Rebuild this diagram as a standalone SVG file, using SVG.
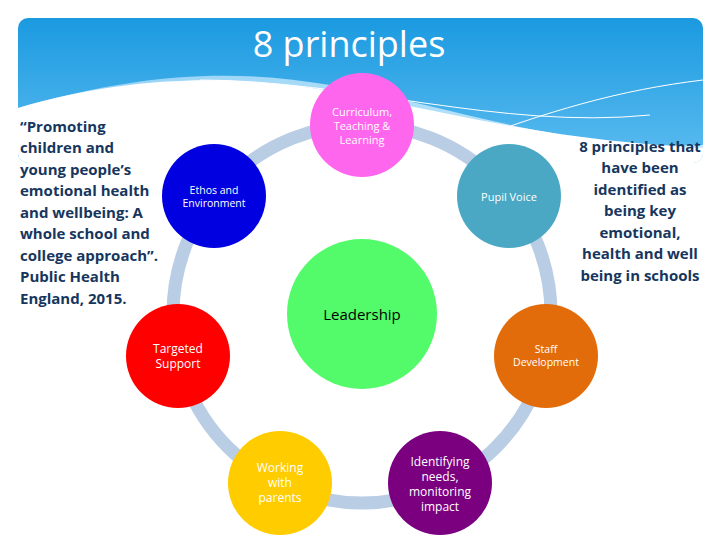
<svg xmlns="http://www.w3.org/2000/svg" width="720" height="540" viewBox="0 0 720 540">
<defs>
<linearGradient id="bg" x1="0" y1="0" x2="0" y2="1"><stop offset="0" stop-color="#1b9ae0"/><stop offset="1" stop-color="#5cbcf0"/></linearGradient>
<linearGradient id="wv" x1="0" y1="0" x2="1" y2="0"><stop offset="0" stop-color="#8fd0f5"/><stop offset="1" stop-color="#c6e8fb"/></linearGradient>
<clipPath id="cb"><rect x="18" y="18" width="685" height="145" rx="10"/></clipPath>
<style>
.n text{font-family:"Open Sans","Liberation Sans",sans-serif;fill:#fff;text-anchor:middle}
.side{font-family:"Open Sans","Liberation Sans",sans-serif;font-weight:bold;font-size:15px;fill:#17365d}
</style>
</defs>
<rect width="720" height="540" fill="#fff"/>
<g clip-path="url(#cb)">
<rect x="18" y="18" width="685" height="145" fill="url(#bg)"/>
<path d="M18 108 C150 70 240 70 330 85 C450 105 560 150 703 145 L703 163 L18 163 Z" fill="url(#wv)"/>
<path d="M18 108 C150 70 260 75 380 100 C480 120 560 140 703 148 L703 163 L18 163 Z" fill="#fff"/>
<path d="M200 80 C350 80 500 130 650 115" stroke="#fff" stroke-width="1" fill="none"/>
<path d="M450 148 C550 110 620 90 703 80" stroke="#fff" stroke-width="1" fill="none"/>
</g>
<text x="349" y="57" font-family="'Open Sans','Liberation Sans',sans-serif" font-size="36" fill="#fff" text-anchor="middle">8 principles</text>
<g id="connectors">
<circle cx="362" cy="314" r="189" fill="none" stroke="#b9cde5" stroke-width="13"/>
</g>
<g id="leadership" class="n"><circle cx="362" cy="314" r="75" fill="#53fb6a"/><text x="362" y="320" font-size="15" style="fill:#000">Leadership</text></g>
<g id="curriculum" class="n"><circle cx="362" cy="125" r="52" fill="#ff66ee"/><text x="362" y="116" font-size="11">Curriculum,</text><text x="362" y="130" font-size="11">Teaching &amp;</text><text x="362" y="144" font-size="11">Learning</text></g>
<g id="ethos" class="n"><circle cx="214" cy="196" r="52" fill="#0000e0"/><text x="214" y="194" font-size="10.5">Ethos and</text><text x="214" y="207" font-size="10.5">Environment</text></g>
<g id="pupil" class="n"><circle cx="509" cy="196" r="52" fill="#4aa8c4"/><text x="509" y="201" font-size="11">Pupil Voice</text></g>
<g id="targeted" class="n"><circle cx="178" cy="356" r="52" fill="#ff0000"/><text x="178" y="353" font-size="12">Targeted</text><text x="178" y="368" font-size="12">Support</text></g>
<g id="staff" class="n"><circle cx="546" cy="356" r="52" fill="#e36c0a"/><text x="546" y="353" font-size="10.5">Staff</text><text x="546" y="366" font-size="10.5">Development</text></g>
<g id="working" class="n"><circle cx="280" cy="483" r="52" fill="#ffcc00"/><text x="280" y="472" font-size="12">Working</text><text x="280" y="487" font-size="12">with</text><text x="280" y="502" font-size="12">parents</text></g>
<g id="identifying" class="n"><circle cx="440" cy="483" r="52" fill="#7a0080"/><text x="440" y="466" font-size="12">Identifying</text><text x="440" y="481" font-size="12">needs,</text><text x="440" y="496" font-size="12">monitoring</text><text x="440" y="511" font-size="12">impact</text></g>
<g id="quote" class="side">
<text x="20" y="132">“Promoting</text><text x="20" y="153">children and</text><text x="20" y="175">young people’s</text><text x="20" y="196">emotional health</text><text x="20" y="218">and wellbeing: A</text><text x="20" y="239">whole school and</text><text x="20" y="261">college approach”.</text><text x="20" y="282">Public Health</text><text x="20" y="304">England, 2015.</text>
</g>
<g id="note" class="side" text-anchor="middle">
<text x="640" y="152">8 principles that</text><text x="640" y="173">have been</text><text x="640" y="195">identified as</text><text x="640" y="216">being key</text><text x="640" y="238">emotional,</text><text x="640" y="259">health and well</text><text x="640" y="281">being in schools</text>
</g>
</svg>
